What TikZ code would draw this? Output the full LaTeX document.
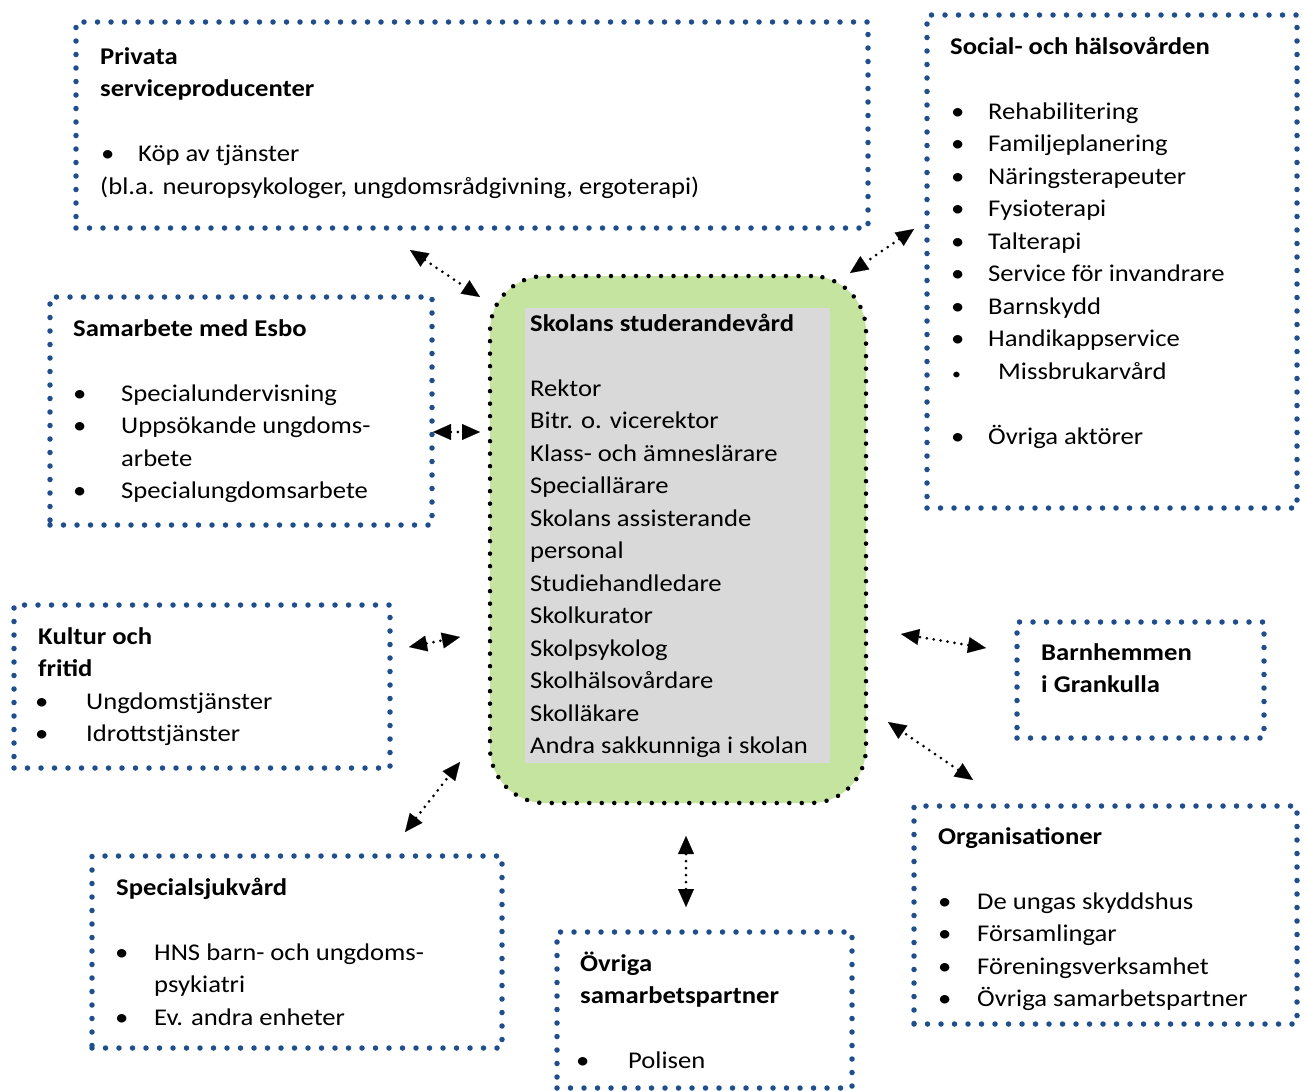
\documentclass[tikz,border=0pt]{standalone}
\usepackage{fontspec}
\setmainfont{Carlito}[FakeStretch=1.11]
\usetikzlibrary{arrows.meta}
\definecolor{dotblue}{RGB}{31,78,138}
\definecolor{hubgreen}{RGB}{196,228,160}
\definecolor{hubgrey}{RGB}{217,217,217}
\newcommand{\itm}[3]{\hspace*{#1}\makebox[#2][l]{\textbullet}#3}

\begin{document}
\begin{tikzpicture}[x=1pt,y=-1pt,
    font=\fontsize{24}{32.5}\selectfont]
                \tikzstyle{zone}=[draw=dotblue,line width=5.5pt,dash pattern=on 0pt off 13.5pt,line cap=round,inner sep=0pt]
                \tikzstyle{label}=[anchor=north west,align=left,inner sep=0pt]
                \tikzstyle{link}=[{Triangle[length=18pt,width=16pt,line width=0.1pt]}-{Triangle[length=18pt,width=16pt,line width=0.1pt]},line width=3pt,dash pattern=on 0pt off 7pt,line cap=round]
                \useasboundingbox (0,0) rectangle (1306,1090);

                % boxes
                \node[zone, minimum width=792pt, minimum height=206pt] (privata) at (472,125) {};
                \node[zone, minimum width=370pt, minimum height=493pt] (social)  at (1112,261.5) {};
                \node[zone, minimum width=382pt, minimum height=228pt] (esbo)    at (241,411) {};
                \node[zone, minimum width=376pt, minimum height=163pt] (kultur)  at (202,686.5) {};
                \node[zone, minimum width=247pt, minimum height=116pt] (barn)    at (1140.5,680) {};
                \node[zone, minimum width=383pt, minimum height=218pt] (org)     at (1105.5,915) {};
                \node[zone, minimum width=410pt, minimum height=192pt] (spec)    at (297,952) {};
                \node[zone, minimum width=295pt, minimum height=156pt] (ovriga)  at (704.5,1010) {};

                % centre
                \node[fill=hubgreen, draw=black, line width=4.5pt, dash pattern=on 0pt off 12.5pt, line cap=round,
                      rounded corners=55pt, minimum width=376pt, minimum height=527pt] (hub) at (678,539.5) {};
                \node[fill=hubgrey, minimum width=305pt, minimum height=455pt, inner sep=0pt] (hubcore) at (677.5,535.5) {};

                % texts
                \node[label] (privtext) at (100,41.25) {\strut\textbf{Privata}\\ \textbf{serviceproducenter}\\[32.5pt]
                    \itm{1pt}{37pt}{Köp av tjänster}\\ (bl.a. neuropsykologer, ungdomsrådgivning, ergoterapi)};
                \node[label] (soctext) at (950,31.25) {\strut\textbf{Social- och hälsovården}\\[32.5pt]
                    \itm{1pt}{37pt}{Rehabilitering}\\ \itm{1pt}{37pt}{Familjeplanering}\\
                    \itm{1pt}{37pt}{Näringsterapeuter}\\ \itm{1pt}{37pt}{Fysioterapi}\\
                    \itm{1pt}{37pt}{Talterapi}\\ \itm{1pt}{37pt}{Service för invandrare}\\
                    \itm{1pt}{37pt}{Barnskydd}\\ \itm{1pt}{37pt}{Handikappservice}\\
                    \hspace*{2pt}\makebox[46pt][l]{\fontsize{16}{16}\selectfont\textbullet}Missbrukarvård\\[32.5pt]
                    \itm{1pt}{37pt}{Övriga aktörer}};
                \node[label] (esbotext) at (73,313.25) {\strut\textbf{Samarbete med Esbo}\\[32.5pt]
                    \itm{0pt}{48pt}{Specialundervisning}\\ \itm{0pt}{48pt}{Uppsökande ungdoms-}\\
                    \hspace*{48pt}arbete\\ \itm{0pt}{48pt}{Specialungdomsarbete}};
                \node[label] (hubtext) at (530,308.25) {\strut\textbf{Skolans studerandevård}\\[32.5pt]
                    Rektor\\ Bitr. o. vicerektor\\ Klass- och ämneslärare\\ Speciallärare\\
                    Skolans assisterande\\ personal\\ Studiehandledare\\ Skolkurator\\
                    Skolpsykolog\\ Skolhälsovårdare\\ Skolläkare\\ Andra sakkunniga i skolan};
                \node[label] (kulttext) at (38,621.25) {\strut\textbf{Kultur och}\\ \textbf{fritid}\\
                    \itm{-3pt}{51pt}{Ungdomstjänster}\\ \itm{-3pt}{51pt}{Idrottstjänster}};
                \node[label] (barntext) at (1041,637.25) {\strut\textbf{Barnhemmen}\\ \textbf{i Grankulla}};
                \node[label] (orgtext) at (938,821.25) {\strut\textbf{Organisationer}\\[32.5pt]
                    \itm{0pt}{39pt}{De ungas skyddshus}\\ \itm{0pt}{39pt}{Församlingar}\\
                    \itm{0pt}{39pt}{Föreningsverksamhet}\\ \itm{0pt}{39pt}{Övriga samarbetspartner}};
                \node[label] (spectext) at (116,872.25) {\strut\textbf{Specialsjukvård}\\[32.5pt]
                    \itm{-1pt}{39pt}{HNS barn- och ungdoms-}\\ \hspace*{38pt}psykiatri\\
                    \itm{-1pt}{39pt}{Ev. andra enheter}};
                \node[label] (ovrtext) at (580,948.25) {\strut\textbf{Övriga}\\ \textbf{samarbetspartner}\\[32.5pt]
                    \itm{-4pt}{52pt}{Polisen}};

                % connector ends
                \coordinate (p1) at (410,250); \coordinate (h1) at (480,297);
                \coordinate (s1) at (914,229); \coordinate (h2) at (850,273);
                \coordinate (e1) at (433,432); \coordinate (h3) at (480,432);
                \coordinate (k1) at (409,647); \coordinate (h4) at (460,637);
                \coordinate (q1) at (405,832); \coordinate (h5) at (460,762);
                \coordinate (o1) at (686,907); \coordinate (h6) at (686,836);
                \coordinate (g1) at (973,780); \coordinate (h7) at (888,722);
                \coordinate (b1) at (986,648); \coordinate (h8) at (901,634);

                \draw[link] (p1) -- (h1);
                \draw[link] (s1) -- (h2);
                \draw[link] (e1) -- (h3);
                \draw[link] (k1) -- (h4);
                \draw[link] (q1) -- (h5);
                \draw[link] (o1) -- (h6);
                \draw[link] (g1) -- (h7);
                \draw[link] (b1) -- (h8);
\end{tikzpicture}
\end{document}
